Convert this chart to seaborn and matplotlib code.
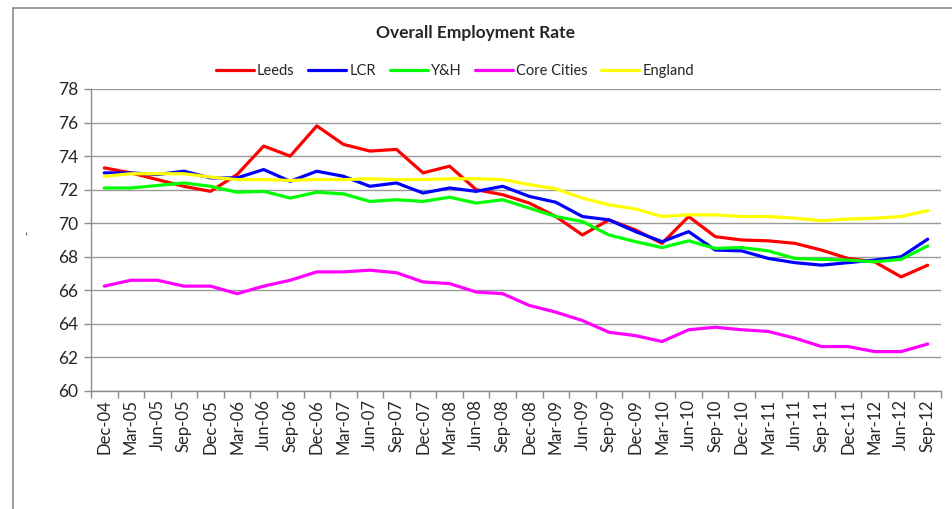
import matplotlib
matplotlib.use("Agg")
import matplotlib.pyplot as plt
import seaborn as sns
import pandas as pd
import numpy as np
from matplotlib.lines import Line2D

quarters = ["Dec-04", "Mar-05", "Jun-05", "Sep-05", "Dec-05", "Mar-06", "Jun-06", "Sep-06",
            "Dec-06", "Mar-07", "Jun-07", "Sep-07", "Dec-07", "Mar-08", "Jun-08", "Sep-08",
            "Dec-08", "Mar-09", "Jun-09", "Sep-09", "Dec-09", "Mar-10", "Jun-10", "Sep-10",
            "Dec-10", "Mar-11", "Jun-11", "Sep-11", "Dec-11", "Mar-12", "Jun-12", "Sep-12"]

leeds = [73.3, 73.0, 72.6, 72.2, 71.9, 72.9, 74.6, 74.0, 75.8, 74.7, 74.3, 74.4, 73.0, 73.4, 72.0, 71.7,
         71.2, 70.4, 69.3, 70.2, 69.6, 68.8, 70.4, 69.2, 69.0, 68.95, 68.8, 68.4, 67.9, 67.7, 66.8, 67.5]
lcr = [73.0, 73.0, 72.9, 73.1, 72.7, 72.7, 73.2, 72.5, 73.1, 72.8, 72.2, 72.4, 71.8, 72.1, 71.9, 72.2,
       71.6, 71.25, 70.4, 70.2, 69.5, 68.9, 69.5, 68.4, 68.35, 67.9, 67.65, 67.5, 67.65, 67.8, 68.0, 69.05]
yh = [72.1, 72.1, 72.25, 72.4, 72.2, 71.85, 71.9, 71.5, 71.85, 71.75, 71.3, 71.4, 71.3, 71.55, 71.2, 71.4,
      70.9, 70.4, 70.1, 69.3, 68.9, 68.55, 68.95, 68.5, 68.55, 68.35, 67.9, 67.85, 67.8, 67.7, 67.85, 68.65]
core_cities = [66.25, 66.6, 66.6, 66.25, 66.25, 65.8, 66.25, 66.6, 67.1, 67.1, 67.2, 67.05, 66.5, 66.4, 65.9, 65.8,
               65.1, 64.7, 64.2, 63.5, 63.3, 62.95, 63.65, 63.8, 63.65, 63.55, 63.15, 62.65, 62.65, 62.35, 62.35, 62.8]
england = [72.8, 72.95, 72.95, 72.95, 72.75, 72.6, 72.6, 72.55, 72.6, 72.6, 72.65, 72.6, 72.6, 72.65, 72.65, 72.6,
           72.3, 72.05, 71.5, 71.1, 70.85, 70.4, 70.5, 70.5, 70.4, 70.4, 70.3, 70.15, 70.25, 70.3, 70.4, 70.75]

series_names = ["Leeds", "LCR", "Y&H", "Core Cities", "England"]
series_values = [leeds, lcr, yh, core_cities, england]
series_colors = ["#ff0000", "#0000ff", "#00ff00", "#ff00ff", "#ffff00"]
y_ticks = [60, 62, 64, 66, 68, 70, 72, 74, 76, 78]

rows = []
for name, vals in zip(series_names, series_values):
    for i, v in enumerate(vals):
        rows.append({"idx": i, "value": v, "series": name})
df = pd.DataFrame(rows)

sns.set_theme(style="white")
plt.rcParams["font.family"] = ["Lato", "DejaVu Sans"]

fig = plt.figure(figsize=(9.53, 5.09), dpi=100)
ax = fig.add_axes([91 / 953, 1 - 391 / 509, (941 - 91) / 953, (391 - 89) / 509])

sns.lineplot(data=df, x="idx", y="value", hue="series", hue_order=series_names,
             palette=dict(zip(series_names, series_colors)), linewidth=2.3,
             sort=False, legend=False, ax=ax)

ax.set_xlim(-0.5, len(quarters) - 0.5)
ax.set_ylim(60, 78)
ax.set_yticks(y_ticks)
ax.set_yticklabels([str(t) for t in y_ticks], fontsize=12.5)
ax.set_xticks(range(len(quarters)))
ax.set_xticklabels(quarters, rotation=90, fontsize=12)
ax.set_xticks(np.arange(-0.5, len(quarters), 1.0), minor=True)
ax.tick_params(axis="x", which="major", length=0, pad=6)
ax.tick_params(axis="x", which="minor", length=5, color="#8c8c8c", width=1, bottom=True)
ax.tick_params(axis="y", which="major", length=5, color="#8c8c8c", width=1, left=True, pad=4)
ax.yaxis.grid(True, color="#9a9a9a", linewidth=1)
ax.xaxis.grid(False)
for s in ["top", "right"]:
    ax.spines[s].set_visible(False)
for s in ["left", "bottom"]:
    ax.spines[s].set_color("#8c8c8c")
    ax.spines[s].set_linewidth(1)
ax.set_xlabel("")
ax.set_ylabel("-", fontsize=8)
ax.yaxis.set_label_coords((32 - 91) / 850, (391 - 233) / 302)

fig.text(476 / 953, 1 - 33 / 509, "Overall Employment Rate", ha="center", va="center",
         fontsize=12.5, fontweight="bold")

handles = [Line2D([0], [0], color=c, linewidth=2.3) for c in series_colors]
fig.legend(handles, series_names, loc="center", bbox_to_anchor=(455 / 953, 1 - 71 / 509),
           ncol=5, frameon=False, fontsize=10.5, handlelength=2.6, handletextpad=0.2,
           columnspacing=0.95)

fig.add_artist(Line2D([13 / 953, 13 / 953], [0, 1 - 8 / 509], color="#8c8c8c", linewidth=1.2))
fig.add_artist(Line2D([13 / 953, 1], [1 - 8 / 509, 1 - 8 / 509], color="#8c8c8c", linewidth=1.2))

fig.savefig("out.png", dpi=100)
